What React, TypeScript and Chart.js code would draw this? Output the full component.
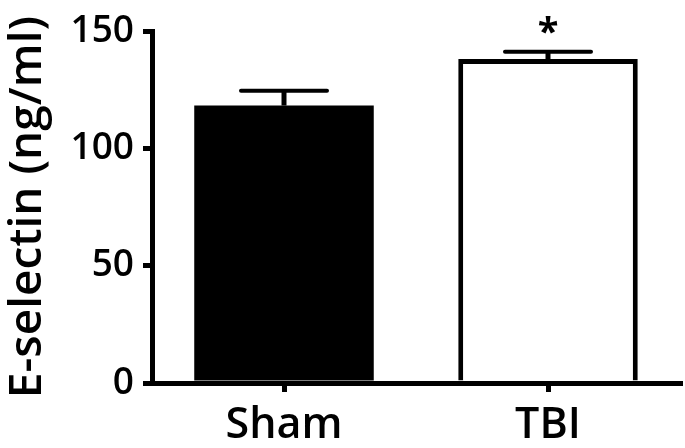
import React, { useEffect, useRef } from "react";
import { Chart, registerables } from "chart.js";

Chart.register(...registerables);

const categories = ["Sham", "TBI"];
const meanValues = [118.3, 138.1];
const upperErrors = [124.6, 141.2];
const significance = ["", "*"];
const yTicks = [0, 50, 100, 150];
const yTitle = "E-selectin (ng/ml)";

const FONT = "'Open Sans', 'DejaVu Sans', sans-serif";

const errorBarPlugin = {
  id: "errorBars",
  afterDatasetsDraw(chart: any) {
    const ctx = chart.ctx;
    const xs = chart.scales.x;
    const ys = chart.scales.y;
    ctx.save();
    ctx.strokeStyle = "#000";
    ctx.fillStyle = "#000";
    for (let i = 0; i < categories.length; i++) {
      const x = xs.getPixelForValue(i);
      const yBar = ys.getPixelForValue(meanValues[i]);
      const yTop = ys.getPixelForValue(upperErrors[i]);
      ctx.lineWidth = 5;
      ctx.beginPath();
      ctx.moveTo(x, yBar);
      ctx.lineTo(x, yTop);
      ctx.stroke();
      ctx.lineWidth = 4;
      ctx.lineCap = "round";
      ctx.beginPath();
      ctx.moveTo(x - 43, yTop);
      ctx.lineTo(x + 43, yTop);
      ctx.stroke();
      ctx.lineCap = "butt";
      if (significance[i]) {
        ctx.font = `bold 38px ${FONT}`;
        ctx.textAlign = "center";
        ctx.textBaseline = "alphabetic";
        ctx.fillText(significance[i], x, yTop - 7);
      }
    }
    ctx.restore();
  },
};

export default function App() {
  const ref = useRef<HTMLCanvasElement | null>(null);
  useEffect(() => {
    if (!ref.current) return;
    const chart = new Chart(ref.current, {
      type: "bar",
      data: {
        labels: categories,
        datasets: [
          {
            data: meanValues,
            backgroundColor: ["#000000", "#ffffff"],
            borderColor: "#000000",
            borderWidth: [0, 5],
            barPercentage: 0.68,
            categoryPercentage: 1,
          },
        ],
      },
      options: {
        responsive: false,
        animation: false,
        layout: { padding: { top: 30, right: 5, bottom: 0, left: 0 } },
        plugins: { legend: { display: false }, tooltip: { enabled: false } },
        scales: {
          x: {
            grid: {
              display: true,
              drawOnChartArea: false,
              drawTicks: true,
              offset: false,
              tickLength: 9,
              lineWidth: 5,
              color: "#000",
            },
            border: { display: true, width: 5, color: "#000" },
            ticks: {
              color: "#000",
              padding: 8,
              font: { family: FONT, size: 43, weight: "600" },
            },
            afterFit(scale: any) {
              scale.height = 65;
            },
          },
          y: {
            min: 0,
            max: 150,
            afterBuildTicks(scale: any) {
              scale.ticks = yTicks.map((v) => ({ value: v }));
            },
            grid: {
              display: true,
              drawOnChartArea: false,
              drawTicks: true,
              tickLength: 9,
              lineWidth: 5,
              color: "#000",
            },
            border: { display: true, width: 5, color: "#000" },
            ticks: {
              color: "#000",
              padding: 9,
              font: { family: FONT, size: 37, weight: "600" },
            },
            title: {
              display: true,
              text: yTitle,
              color: "#000",
              padding: { top: 0, bottom: 2 },
              font: { family: FONT, size: 46, weight: "600" },
            },
            afterFit(scale: any) {
              scale.width = 152;
            },
          },
        },
      },
      plugins: [errorBarPlugin],
    });
    return () => chart.destroy();
  }, []);
  return (
    <div style={{ position: "absolute", left: 0, top: 0, width: 685, height: 448, background: "#fff" }}>
      <canvas ref={ref} width={685} height={448} />
    </div>
  );
}
